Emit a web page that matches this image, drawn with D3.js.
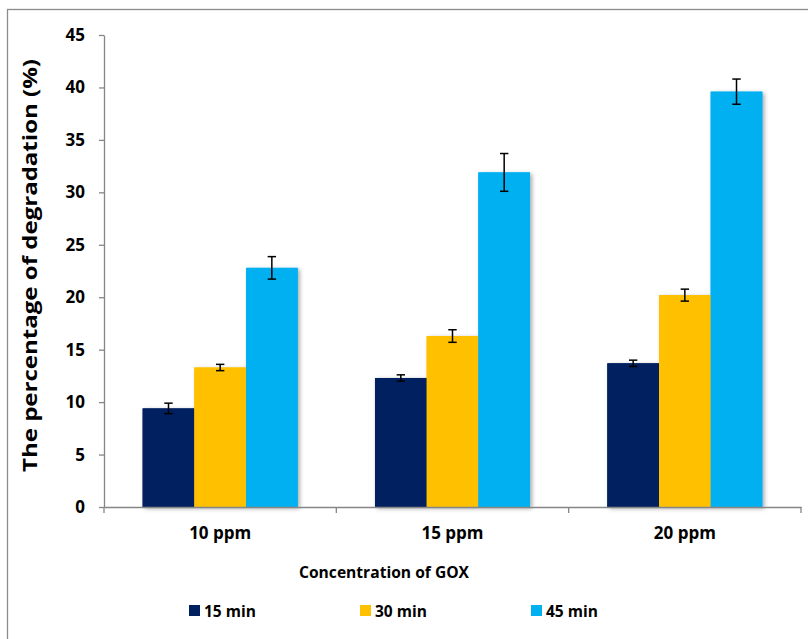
<!DOCTYPE html>
<html><head><meta charset="utf-8">
<script src="https://cdn.jsdelivr.net/npm/d3@7"></script>
<style>body{margin:0;background:#fff;} text{font-family:"Open Sans",Lato,sans-serif;font-weight:bold;fill:#000;}</style>
</head><body>
<svg id="c" width="808" height="639"></svg>
<script>
const categories = ["10 ppm", "15 ppm", "20 ppm"];
const seriesNames = ["15 min", "30 min", "45 min"];
const values15 = [9.4, 12.3, 13.7];
const values30 = [13.3, 16.3, 20.2];
const values45 = [22.8, 31.9, 39.6];
const errors15 = [0.5, 0.3, 0.3];
const errors30 = [0.3, 0.6, 0.57];
const errors45 = [1.07, 1.8, 1.2];
const yTicks = [0, 5, 10, 15, 20, 25, 30, 35, 40, 45];
const colors = ["#002060", "#FFC000", "#00B0F0"];

const seriesVals = [values15, values30, values45];
const seriesErr = [errors15, errors30, errors45];
const FONT = '"Open Sans", Lato, sans-serif';

const svg = d3.select("#c");
const defs = svg.append("defs");
const f = defs.append("filter").attr("id","sh").attr("x","-20%").attr("y","-20%").attr("width","150%").attr("height","150%");
f.append("feDropShadow").attr("dx",2).attr("dy",1.5).attr("stdDeviation",2).attr("flood-color","#000").attr("flood-opacity",0.35);

// frame
svg.append("rect").attr("x",7.5).attr("y",9.5).attr("width",820).attr("height",650)
  .attr("fill","none").attr("stroke","#8c8c8c").attr("stroke-width",1.3);

const mLeft = 104, mRight = 801, mTop = 35, mBottom = 507;
const x0 = d3.scaleBand().domain(categories).range([mLeft, mRight]).padding(0);
const x1 = d3.scaleBand().domain(seriesNames).range([0, x0.bandwidth()]).paddingInner(0).paddingOuter(0.748);
const y = d3.scaleLinear().domain([0, 45]).range([mBottom, mTop]);

// bars with shadow
categories.forEach((c, ci) => {
  seriesNames.forEach((s, si) => {
    svg.append("rect")
      .attr("x", x0(c) + x1(s))
      .attr("y", y(seriesVals[si][ci]))
      .attr("width", x1.bandwidth())
      .attr("height", y(0) - y(seriesVals[si][ci]))
      .attr("fill", colors[si])
      .attr("filter","url(#sh)");
  });
});
categories.forEach((c, ci) => {
  seriesNames.forEach((s, si) => {
    svg.append("rect")
      .attr("x", x0(c) + x1(s))
      .attr("y", y(seriesVals[si][ci]))
      .attr("width", x1.bandwidth())
      .attr("height", y(0) - y(seriesVals[si][ci]))
      .attr("fill", colors[si]);
  });
});
// error bars
categories.forEach((c, ci) => {
  seriesNames.forEach((s, si) => {
    const cx = x0(c) + x1(s) + x1.bandwidth()/2;
    const v = seriesVals[si][ci], e = seriesErr[si][ci];
    const g = svg.append("g").attr("stroke","#000").attr("stroke-width",1.5);
    g.append("line").attr("x1",cx).attr("x2",cx).attr("y1",y(v+e)).attr("y2",y(v-e));
    g.append("line").attr("x1",cx-4.2).attr("x2",cx+4.2).attr("y1",y(v+e)).attr("y2",y(v+e));
    g.append("line").attr("x1",cx-4.2).attr("x2",cx+4.2).attr("y1",y(v-e)).attr("y2",y(v-e));
  });
});

// y axis
const yAxis = svg.append("g").attr("transform",`translate(${mLeft},0)`)
  .call(d3.axisLeft(y).tickValues(yTicks).tickSize(5).tickPadding(14).tickSizeOuter(0));
yAxis.select(".domain").attr("stroke","#868686").attr("stroke-width",1.3);
yAxis.selectAll(".tick line").attr("stroke","#868686").attr("stroke-width",1.3);
yAxis.selectAll("text").style("font-size","17px").style("font-family",FONT).style("font-weight","bold").attr("fill","#000");

// x axis
const xAxis = svg.append("g").attr("transform",`translate(0,${mBottom})`)
  .call(d3.axisBottom(x0).tickSize(0).tickPadding(20));
xAxis.select(".domain").attr("stroke","#868686").attr("stroke-width",1.3);
xAxis.selectAll("text").style("font-size","17px").style("font-family",FONT).style("font-weight","bold").attr("fill","#000");
const bounds = [mLeft].concat(categories.map(c => x0(c) + x0.bandwidth()));
svg.append("g").selectAll("line").data(bounds).join("line")
  .attr("x1",d=>d).attr("x2",d=>d).attr("y1",mBottom).attr("y2",mBottom+6)
  .attr("stroke","#868686").attr("stroke-width",1.3);

// titles
svg.append("text").attr("x",384).attr("y",578).attr("text-anchor","middle")
  .style("font-size","16px").attr("textLength",170).attr("lengthAdjust","spacingAndGlyphs")
  .text("Concentration of GOX");
svg.append("text").attr("transform","translate(37,265.5) rotate(-90)").attr("text-anchor","middle")
  .style("font-size","19px").attr("textLength",413).attr("lengthAdjust","spacingAndGlyphs")
  .text("The percentage of degradation (%)");

// legend
const legX = [189, 360, 531];
seriesNames.forEach((s, i) => {
  svg.append("rect").attr("x",legX[i]).attr("y",605).attr("width",11).attr("height",11).attr("fill",colors[i]);
  svg.append("text").attr("x",legX[i]+15).attr("y",616.5).style("font-size","15.5px").text(s);
});
</script>
</body></html>
